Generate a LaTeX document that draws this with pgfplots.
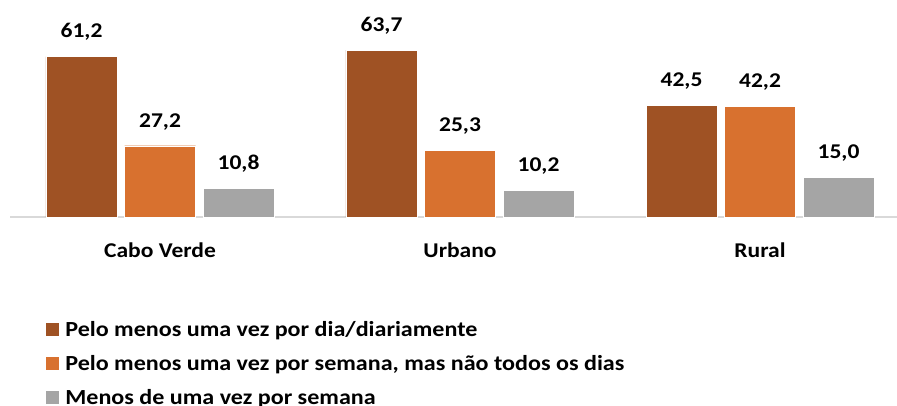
\documentclass[border=0pt]{standalone}
\usepackage{fontspec}
\setmainfont[FakeStretch=1.12]{Carlito}
\usepackage{pgfplots}
\pgfplotsset{compat=1.18}
\definecolor{cBrown}{HTML}{9F5224}
\definecolor{cOrange}{HTML}{D8712F}
\definecolor{cGray}{HTML}{A5A5A5}
\definecolor{cAxis}{HTML}{D9D9D9}
\begin{document}
\begin{tikzpicture}
\useasboundingbox (0,0) rectangle (897pt,405pt);
\begin{axis}[
  at={(10pt,188pt)}, anchor=south west,
  scale only axis, width=887pt, height=217pt,
  xmin=-0.5, xmax=2.4567, ymin=0, ymax=82.8,
  ybar=7.5pt, bar width=71pt,
  axis x line*=bottom, hide y axis,
  x axis line style={cAxis, line width=1.5pt},
  xtick={0,1,2}, xticklabels={Cabo Verde,Urbano,Rural},
  major tick length=0pt,
  xticklabel style={anchor=base, yshift=-40pt, font=\fontsize{21}{25}\selectfont\bfseries},
  nodes near coords,
  nodes near coords style={font=\fontsize{21}{25}\selectfont\bfseries, inner sep=0pt, text depth=18.5pt,
    /pgf/number format/.cd, fixed, fixed zerofill, precision=1, use comma, assume math mode=true},
  legend style={at={(axis description cs:0.03946,-0.4839)}, anchor=north west,
    draw=none, fill=none, inner sep=0pt, outer sep=0pt,
    row sep=15pt, column sep=6pt,
    nodes={inner sep=0pt, text height=14pt, text depth=5pt, anchor=base west,
      font=\fontsize{21.5}{25}\selectfont\bfseries}},
  legend cell align=left,
  legend image code/.code={\fill[#1] (0pt,0pt) rectangle (14pt,14pt);},
]
\addplot[fill=cBrown, draw=white, line width=0.4pt] coordinates {(0,61.2) (1,63.7) (2,42.5)};
\addplot[fill=cOrange, draw=white, line width=0.4pt] coordinates {(0,27.2) (1,25.3) (2,42.2)};
\addplot[fill=cGray, draw=white, line width=0.4pt] coordinates {(0,10.8) (1,10.2) (2,15.0)};
\legend{Pelo menos uma vez por dia/diariamente, Pelo menos uma vez por semana{,} mas não todos os dias, Menos de uma vez por semana}
\end{axis}
\end{tikzpicture}
\end{document}
